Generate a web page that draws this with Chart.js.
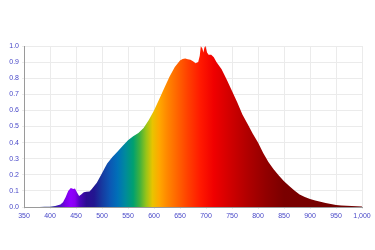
<!DOCTYPE html>
<html>
<head>
<meta charset="utf-8">
<script src="https://cdn.jsdelivr.net/npm/chart.js@4/dist/chart.umd.min.js"></script>
<style>
  html, body { margin: 0; padding: 0; background: #fff; }
  #wrap { width: 375px; height: 250px; }
</style>
</head>
<body>
<div id="wrap"><canvas id="chart"></canvas></div>
<script>
// wavelength (nm) and relative intensity
const wavelengths = [350, 360, 370, 380, 390, 400, 410, 420, 425, 430, 435, 440, 445, 448, 452, 456, 460, 465, 470, 476,
  480, 485, 490, 495, 500, 505, 510, 515, 520, 530, 540, 550, 560, 570, 580, 590, 600, 610, 620, 630,
  640, 650, 655, 660, 665, 670, 675, 680, 685, 688, 690, 693, 695, 697, 699, 702, 705, 710, 715, 720,
  730, 740, 750, 760, 770, 780, 790, 800, 810, 820, 830, 840, 850, 860, 870, 880, 890, 900, 910, 920,
  930, 940, 950, 960, 970, 980, 990, 1000];
const intensity = [0, 0, 0, 0, 0.001, 0.002, 0.006, 0.015, 0.03, 0.06, 0.1, 0.118, 0.112, 0.115, 0.09, 0.068, 0.078, 0.092, 0.095, 0.097,
  0.11, 0.13, 0.15, 0.18, 0.21, 0.24, 0.27, 0.29, 0.31, 0.345, 0.38, 0.415, 0.44, 0.46, 0.49, 0.54, 0.6, 0.67, 0.74, 0.81,
  0.87, 0.91, 0.92, 0.922, 0.918, 0.915, 0.905, 0.893, 0.9, 0.94, 0.998, 0.985, 0.96, 0.99, 1.0, 0.96, 0.945, 0.945, 0.93, 0.9,
  0.855, 0.79, 0.72, 0.65, 0.575, 0.515, 0.455, 0.4, 0.335, 0.28, 0.235, 0.195, 0.16, 0.13, 0.103, 0.078, 0.062, 0.05, 0.04, 0.032,
  0.025, 0.018, 0.013, 0.01, 0.008, 0.006, 0.004, 0.003];

// spectrum colour stops: wavelength -> colour
const stopNm = [400, 420, 430, 440, 448, 458, 470, 485, 500, 515, 530, 545, 560, 572, 585, 597, 610, 625, 645, 665, 690, 715, 745, 780, 815, 850, 1000];
const stopColor = ['#1c2a90', '#4a10c0', '#7a00e8', '#8f00ff', '#8800f0', '#4a06b8', '#2c0c92', '#221690', '#163aa0', '#0c56b4', '#0070b8', '#008a9c', '#00a070', '#3cb040', '#98c418', '#e8c400', '#ffa800', '#ff8800', '#ff6400', '#ff4000', '#ff1800', '#f00000', '#d20000', '#b00000', '#920000', '#7a0000', '#700000'];

function spectrumFill(context) {
  const chart = context.chart;
  const area = chart.chartArea;
  if (!area) return '#f00';
  const xs = chart.scales.x;
  const g = chart.ctx.createLinearGradient(area.left, 0, area.right, 0);
  const w = area.right - area.left;
  stopNm.forEach((nm, i) => {
    let p = (xs.getPixelForValue(nm) - area.left) / w;
    p = Math.min(1, Math.max(0, p));
    g.addColorStop(p, stopColor[i]);
  });
  return g;
}

const labelColor = '#4848c8';
const font = { family: 'Liberation Sans', size: 7 };

new Chart(document.getElementById('chart'), {
  type: 'line',
  data: {
    datasets: [{
      data: wavelengths.map((x, i) => ({ x: x, y: intensity[i] })),
      fill: 'origin',
      backgroundColor: spectrumFill,
      borderWidth: 0,
      pointRadius: 0,
      tension: 0
    }]
  },
  options: {
    responsive: true,
    maintainAspectRatio: false,
    animation: false,
    layout: { padding: { top: 46, right: 13, bottom: 0, left: 0 } },
    plugins: { legend: { display: false }, tooltip: { enabled: false } },
    scales: {
      x: {
        type: 'linear',
        min: 350,
        max: 1000,
        afterFit: (s) => { s.height = 43; },
        ticks: { stepSize: 50, color: labelColor, font: font, padding: 3, maxRotation: 0 },
        grid: { color: '#ebebeb', tickLength: 2 },
        border: { color: '#9a9a9a' }
      },
      y: {
        min: 0,
        max: 1,
        afterFit: (s) => { s.width = 24; },
        ticks: { stepSize: 0.1, color: labelColor, font: font, padding: 3, callback: (v) => v.toFixed(1) },
        grid: { color: '#ebebeb', tickLength: 2 },
        border: { color: '#9a9a9a' }
      }
    }
  }
});
</script>
</body>
</html>
